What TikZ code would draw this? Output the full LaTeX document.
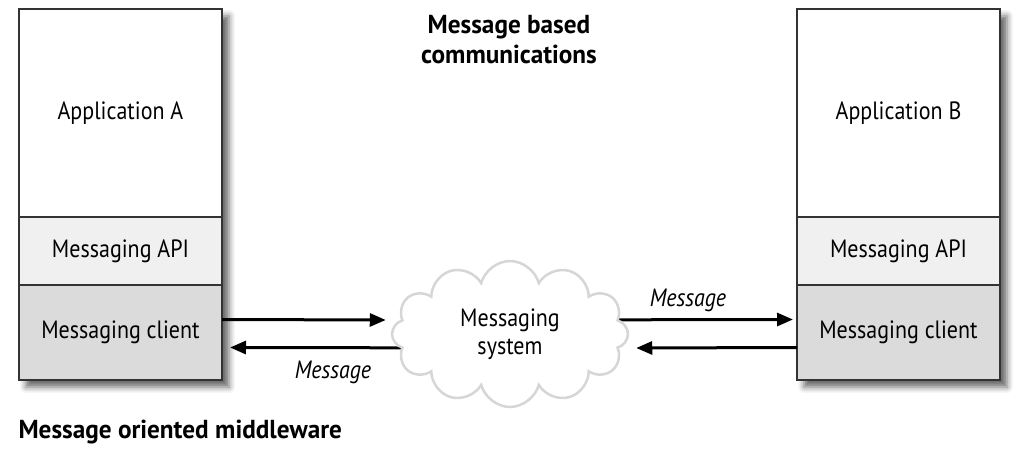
\documentclass[tikz,border=0pt]{standalone}
\usepackage{fontspec}
\setmainfont{PT Sans}[FakeStretch=0.88]
\newfontfamily\headfont{PT Sans}[FakeStretch=0.97]
\usetikzlibrary{positioning,shapes.symbols,arrows.meta,shadows.blur,fit,backgrounds}

\tikzset{
  layer/.style={draw=black!80, line width=1.3pt, outer sep=0pt, inner sep=0pt,
    minimum width=203pt, font=\fontsize{25}{29}\selectfont},
  appbox/.style={layer, fill=white, minimum height=208pt},
  apibox/.style={layer, fill=black!6, minimum height=68pt},
  clientbox/.style={layer, fill=black!14, minimum height=95pt},
  colshadow/.style={inner sep=0pt, fill=white,
    blur shadow={shadow xshift=7pt, shadow yshift=-7pt, shadow blur radius=6pt, shadow opacity=60}},
  msg/.style={line width=3pt, -{Triangle[length=16pt,width=13pt]}},
  msglabel/.style={font=\fontsize{25}{29}\selectfont\itshape},
  heading/.style={font=\headfont\fontsize{26}{30}\selectfont\bfseries, align=center},
}

\begin{document}
\begin{tikzpicture}[x=1pt,y=1pt]
\useasboundingbox (0,0) rectangle (1020,-454);

% application A
\node[appbox, anchor=north west] (appA) at (19,-9) {Application A};
\node[apibox, below=0pt of appA] (apiA) {Messaging API};
\node[clientbox, below=0pt of apiA] (clientA) {Messaging client};

% application B
\node[appbox, anchor=north west] (appB) at (797,-9) {Application B};
\node[apibox, below=0pt of appB] (apiB) {Messaging API};
\node[clientbox, below=0pt of apiB] (clientB) {Messaging client};

\node[cloud, cloud puffs=12, aspect=1.65, minimum width=236pt, minimum height=146pt,
  fill=white, draw=black!16, line width=2.5pt, align=center,
  font=\fontsize{25}{28}\selectfont] (msgsys) at (510,-334) {Messaging\\system};

\begin{scope}[on background layer]
\node[colshadow, fit=(appA)(clientA)] (colA) {};
\node[colshadow, fit=(appB)(clientB)] (colB) {};
\draw[msg] ([yshift=-14pt]msgsys.center) -- ([xshift=8pt,yshift=-15pt]clientA.east);
\draw[msg] ([yshift=14pt]msgsys.center) -- ([xshift=-4pt,yshift=13pt]clientB.west);
\end{scope}

\draw[msg] ([yshift=13pt]clientA.east) -- ([xshift=-5pt,yshift=14pt]msgsys.west);
\draw[msg] ([yshift=-15pt]clientB.west) -- ([xshift=7pt,yshift=-14pt]msgsys.east);

\node[msglabel] (msgA) at (333,-372) {Message};
\node[msglabel] (msgB) at (688,-300) {Message};

\node[heading] (title) at (509,-40) {Message based\\communications};
\node[heading, anchor=west] (mom) at (15,-432) {Message oriented middleware};
\end{tikzpicture}
\end{document}
